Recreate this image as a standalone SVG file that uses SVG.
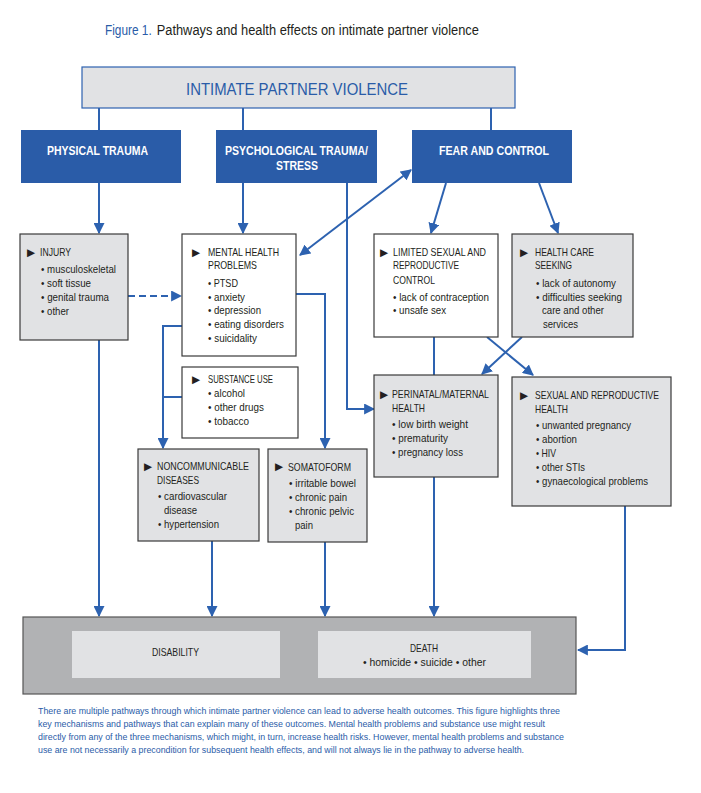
<svg xmlns="http://www.w3.org/2000/svg" width="701" height="793" viewBox="0 0 701 793">
<defs>
<style>
text{font-family:"Liberation Sans Narrow","Liberation Sans",Arial,sans-serif;}
.lbl{font-size:11.5px;fill:#231f20;}
.sm{font-size:10.5px;fill:#231f20;}
.tri{font-family:"DejaVu Sans",sans-serif;font-size:10.5px;fill:#231f20;}
.box{stroke:#3a3a3a;stroke-width:1.2;}
.gray{fill:#e1e2e4;}
.white{fill:#ffffff;}
.blue{fill:#2a5ca8;}
.hdr{font-size:13px;font-weight:bold;fill:#ffffff;}
.con{fill:none;stroke:#2d62b0;stroke-width:2;}
.arr{marker-end:url(#ah);}
.cap{font-size:9.5px;fill:#2a5ca8;}
</style>
<marker id="ah" viewBox="0 0 10 10" refX="9" refY="5" markerWidth="11" markerHeight="11" markerUnits="userSpaceOnUse" orient="auto-start-reverse">
<path d="M0,0 L10,5 L0,10 z" fill="#2d62b0"/>
</marker>
</defs>
<rect width="701" height="793" fill="#ffffff"/>

<g id="title" transform="translate(105,35) scale(0.82,1)">
<text x="0" y="0" font-size="14.5" fill="#2a5ca8" textLength="57" lengthAdjust="spacingAndGlyphs">Figure 1.</text>
<text x="63" y="0" font-size="14.5" fill="#231f20" textLength="393" lengthAdjust="spacingAndGlyphs">Pathways and health effects on intimate partner violence</text>
</g>

<g id="connectors">
<path class="con" d="M99,108 V130"/>
<path class="con" d="M243,108 V130"/>
<path class="con" d="M491,108 V130"/>
<path class="con arr" d="M99,183 V233"/>
<path class="con arr" d="M243,183 V233"/>
<path class="con arr" d="M347,183 V409 H374"/>
<path class="con arr" d="M300,255 L411,170" marker-start="url(#ah)"/>
<path class="con arr" d="M446,183 L431,233"/>
<path class="con arr" d="M539,183 L558,233"/>
<path class="con arr" d="M128,296 H181" stroke-dasharray="7,4"/>
<path class="con arr" d="M296,294 H325 V448"/>
<path class="con arr" d="M182,326 H163 V448"/>
<path class="con" d="M182,397 H163"/>
<path class="con arr" d="M99,340 V616"/>
<path class="con arr" d="M212,541 V616"/>
<path class="con arr" d="M325,542 V616"/>
<path class="con arr" d="M434,477 V616"/>
<path class="con" d="M434,337 V375"/>
<path class="con arr" d="M487,337 L533,375"/>
<path class="con arr" d="M522,337 L482,374"/>
<path class="con arr" d="M625,506 V650 H578"/>
</g>

<g id="ipv">
<rect x="82" y="67" width="433" height="41" fill="#e1e2e4" stroke="#2d62b0" stroke-width="1.2"/>
<text x="186" y="95" font-size="16" fill="#2a5ca8" textLength="222" lengthAdjust="spacingAndGlyphs">INTIMATE PARTNER VIOLENCE</text>
</g>

<g id="physical">
<rect class="blue" x="21" y="130" width="160" height="53"/>
<text class="hdr" x="47" y="155" textLength="101" lengthAdjust="spacingAndGlyphs">PHYSICAL TRAUMA</text>
</g>
<g id="psychological">
<rect class="blue" x="216" y="130" width="161" height="53"/>
<text class="hdr" x="225" y="155" textLength="143" lengthAdjust="spacingAndGlyphs">PSYCHOLOGICAL TRAUMA/</text>
<text class="hdr" x="276" y="170" textLength="42" lengthAdjust="spacingAndGlyphs">STRESS</text>
</g>
<g id="fear">
<rect class="blue" x="412" y="130" width="160" height="53"/>
<text class="hdr" x="439" y="155" textLength="110" lengthAdjust="spacingAndGlyphs">FEAR AND CONTROL</text>
</g>

<g id="injury">
<rect class="box gray" x="20" y="234" width="108" height="106"/>
<text class="tri" x="27" y="256">▶</text>
<text class="lbl" x="40" y="256" textLength="31" lengthAdjust="spacingAndGlyphs">INJURY</text>
<text class="lbl" x="41" y="273" textLength="75" lengthAdjust="spacingAndGlyphs">• musculoskeletal</text>
<text class="lbl" x="41" y="287" textLength="50" lengthAdjust="spacingAndGlyphs">• soft tissue</text>
<text class="lbl" x="41" y="301" textLength="68" lengthAdjust="spacingAndGlyphs">• genital trauma</text>
<text class="lbl" x="41" y="315" textLength="28" lengthAdjust="spacingAndGlyphs">• other</text>
</g>

<g id="mental">
<rect class="box white" x="182" y="234" width="114" height="122"/>
<text class="tri" x="192" y="256">▶</text>
<text class="lbl" x="208" y="256" textLength="71" lengthAdjust="spacingAndGlyphs">MENTAL HEALTH</text>
<text class="lbl" x="208" y="269" textLength="49" lengthAdjust="spacingAndGlyphs">PROBLEMS</text>
<text class="lbl" x="208" y="287" textLength="30" lengthAdjust="spacingAndGlyphs">• PTSD</text>
<text class="lbl" x="208" y="301" textLength="37" lengthAdjust="spacingAndGlyphs">• anxiety</text>
<text class="lbl" x="208" y="314" textLength="53" lengthAdjust="spacingAndGlyphs">• depression</text>
<text class="lbl" x="208" y="328" textLength="76" lengthAdjust="spacingAndGlyphs">• eating disorders</text>
<text class="lbl" x="208" y="342" textLength="49" lengthAdjust="spacingAndGlyphs">• suicidality</text>
</g>

<g id="substance">
<rect class="box white" x="182" y="367" width="116" height="71"/>
<text class="tri" x="192" y="383">▶</text>
<text class="sm" x="208" y="383" textLength="65" lengthAdjust="spacingAndGlyphs">SUBSTANCE USE</text>
<text class="lbl" x="208" y="397" textLength="37" lengthAdjust="spacingAndGlyphs">• alcohol</text>
<text class="lbl" x="208" y="411" textLength="56" lengthAdjust="spacingAndGlyphs">• other drugs</text>
<text class="lbl" x="208" y="425" textLength="41" lengthAdjust="spacingAndGlyphs">• tobacco</text>
</g>

<g id="noncommunicable">
<rect class="box gray" x="138" y="449" width="121" height="92"/>
<text class="tri" x="144" y="470">▶</text>
<text class="lbl" x="157" y="470" textLength="92" lengthAdjust="spacingAndGlyphs">NONCOMMUNICABLE</text>
<text class="lbl" x="157" y="484" textLength="42" lengthAdjust="spacingAndGlyphs">DISEASES</text>
<text class="lbl" x="158" y="500" textLength="69" lengthAdjust="spacingAndGlyphs">• cardiovascular</text>
<text class="lbl" x="164" y="514" textLength="33" lengthAdjust="spacingAndGlyphs">disease</text>
<text class="lbl" x="158" y="528" textLength="61" lengthAdjust="spacingAndGlyphs">• hypertension</text>
</g>

<g id="somatoform">
<rect class="box gray" x="268" y="449" width="99" height="93"/>
<text class="tri" x="275" y="470">▶</text>
<text class="lbl" x="288" y="471" textLength="63" lengthAdjust="spacingAndGlyphs">SOMATOFORM</text>
<text class="lbl" x="289" y="487" textLength="67" lengthAdjust="spacingAndGlyphs">• irritable bowel</text>
<text class="lbl" x="289" y="501" textLength="58" lengthAdjust="spacingAndGlyphs">• chronic pain</text>
<text class="lbl" x="289" y="515" textLength="65" lengthAdjust="spacingAndGlyphs">• chronic pelvic</text>
<text class="lbl" x="295" y="529" textLength="18" lengthAdjust="spacingAndGlyphs">pain</text>
</g>

<g id="limited">
<rect class="box white" x="374" y="234" width="124" height="103"/>
<text class="tri" x="380" y="256">▶</text>
<text class="lbl" x="393" y="256" textLength="93" lengthAdjust="spacingAndGlyphs">LIMITED SEXUAL AND</text>
<text class="lbl" x="393" y="269" textLength="66" lengthAdjust="spacingAndGlyphs">REPRODUCTIVE</text>
<text class="lbl" x="393" y="284" textLength="42" lengthAdjust="spacingAndGlyphs">CONTROL</text>
<text class="lbl" x="393" y="301" textLength="96" lengthAdjust="spacingAndGlyphs">• lack of contraception</text>
<text class="lbl" x="393" y="314" textLength="53" lengthAdjust="spacingAndGlyphs">• unsafe sex</text>
</g>

<g id="healthcare">
<rect class="box gray" x="512" y="234" width="121" height="103"/>
<text class="tri" x="520" y="256">▶</text>
<text class="lbl" x="535" y="256" textLength="59" lengthAdjust="spacingAndGlyphs">HEALTH CARE</text>
<text class="lbl" x="535" y="269" textLength="37" lengthAdjust="spacingAndGlyphs">SEEKING</text>
<text class="lbl" x="536" y="287" textLength="80" lengthAdjust="spacingAndGlyphs">• lack of autonomy</text>
<text class="lbl" x="536" y="301" textLength="86" lengthAdjust="spacingAndGlyphs">• difficulties seeking</text>
<text class="lbl" x="542" y="314" textLength="62" lengthAdjust="spacingAndGlyphs">care and other</text>
<text class="lbl" x="543" y="328" textLength="35" lengthAdjust="spacingAndGlyphs">services</text>
</g>

<g id="perinatal">
<rect class="box gray" x="374" y="375" width="124" height="102"/>
<text class="tri" x="380" y="398">▶</text>
<text class="lbl" x="392" y="398" textLength="97" lengthAdjust="spacingAndGlyphs">PERINATAL/MATERNAL</text>
<text class="lbl" x="392" y="412" textLength="33" lengthAdjust="spacingAndGlyphs">HEALTH</text>
<text class="lbl" x="392" y="428" textLength="76" lengthAdjust="spacingAndGlyphs">• low birth weight</text>
<text class="lbl" x="392" y="442" textLength="56" lengthAdjust="spacingAndGlyphs">• prematurity</text>
<text class="lbl" x="392" y="456" textLength="71" lengthAdjust="spacingAndGlyphs">• pregnancy loss</text>
</g>

<g id="sexual">
<rect class="box gray" x="512" y="377" width="159" height="129"/>
<text class="tri" x="520" y="399">▶</text>
<text class="lbl" x="535" y="399" textLength="124" lengthAdjust="spacingAndGlyphs">SEXUAL AND REPRODUCTIVE</text>
<text class="lbl" x="535" y="413" textLength="33" lengthAdjust="spacingAndGlyphs">HEALTH</text>
<text class="lbl" x="536" y="429" textLength="95" lengthAdjust="spacingAndGlyphs">• unwanted pregnancy</text>
<text class="lbl" x="536" y="443" textLength="41" lengthAdjust="spacingAndGlyphs">• abortion</text>
<text class="lbl" x="536" y="457" textLength="20" lengthAdjust="spacingAndGlyphs">• HIV</text>
<text class="lbl" x="536" y="471" textLength="49" lengthAdjust="spacingAndGlyphs">• other STIs</text>
<text class="lbl" x="536" y="485" textLength="112" lengthAdjust="spacingAndGlyphs">• gynaecological problems</text>
</g>

<g id="outcomes">
<rect x="23" y="617" width="553" height="77" fill="#b1b2b4" stroke="#555555" stroke-width="1.2"/>
<g id="disability">
<rect class="gray" x="72" y="631" width="208" height="47"/>
<text class="lbl" x="152" y="656" textLength="47" lengthAdjust="spacingAndGlyphs">DISABILITY</text>
</g>
<g id="death">
<rect class="gray" x="318" y="631" width="213" height="47"/>
<text class="lbl" x="410" y="652" textLength="28" lengthAdjust="spacingAndGlyphs">DEATH</text>
<text class="lbl" x="363" y="666" textLength="123" lengthAdjust="spacingAndGlyphs">• homicide  • suicide  • other</text>
</g>
</g>

<g id="caption">
<text class="cap" x="38" y="714" textLength="522" lengthAdjust="spacingAndGlyphs">There are multiple pathways through which intimate partner violence can lead to adverse health outcomes. This figure highlights three</text>
<text class="cap" x="38" y="727" textLength="507" lengthAdjust="spacingAndGlyphs">key mechanisms and pathways that can explain many of these outcomes. Mental health problems and substance use might result</text>
<text class="cap" x="38" y="740" textLength="526" lengthAdjust="spacingAndGlyphs">directly from any of the three mechanisms, which might, in turn, increase health risks. However, mental health problems and substance</text>
<text class="cap" x="38" y="753" textLength="486" lengthAdjust="spacingAndGlyphs">use are not necessarily a precondition for subsequent health effects, and will not always lie in the pathway to adverse health.</text>
</g>
</svg>
